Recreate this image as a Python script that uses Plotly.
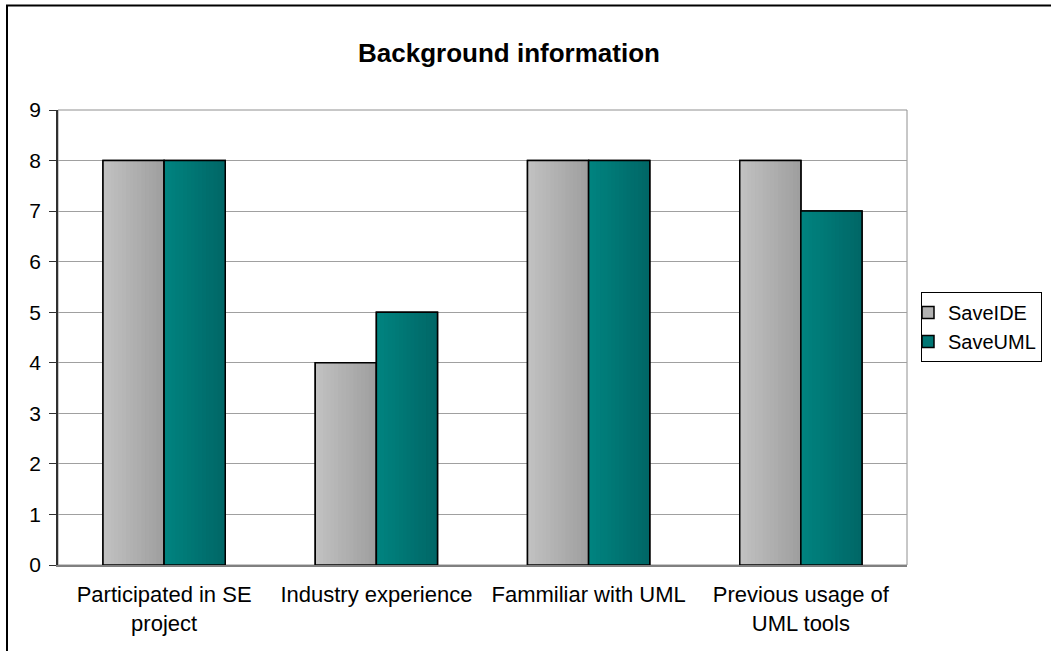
import plotly.graph_objects as go

# Survey answers per category
categories = ["Participated in SE<br>project", "Industry experience",
              "Fammiliar with UML", "Previous usage of<br>UML tools"]
save_ide = [8, 4, 8, 8]
save_uml = [8, 5, 8, 7]

series = [
    # name, values, left colour, right colour, offset
    ("SaveIDE", save_ide, (194, 194, 194), (158, 158, 158), -0.288),
    ("SaveUML", save_uml, (0, 132, 128), (0, 102, 102), 0.0),
]
BAR_W = 0.288
STEPS = 16

fig = go.Figure()


def mix(a, b, t):
    return "rgb({},{},{})".format(*[round(a[i] + (b[i] - a[i]) * t) for i in range(3)])


for name, vals, c0, c1, off in series:
    # base bar (also provides the legend swatch)
    fig.add_trace(go.Bar(
        x=categories, y=vals, name=name, width=BAR_W, offset=off,
        marker=dict(color=mix(c0, c1, 0.45), line=dict(color="black", width=1.5)),
        showlegend=True,
    ))
    # horizontal gradient built from progressively narrower strips
    for i in range(STEPS):
        frac = i / STEPS
        fig.add_trace(go.Bar(
            x=categories, y=vals, width=BAR_W * (1 - frac), offset=off + BAR_W * frac,
            marker=dict(color=mix(c0, c1, (i + 0.5) / STEPS), line=dict(width=0)),
            showlegend=False, hoverinfo="skip",
        ))
    # outline on top
    fig.add_trace(go.Bar(
        x=categories, y=vals, width=BAR_W, offset=off,
        marker=dict(color="rgba(0,0,0,0)", line=dict(color="black", width=1.5)),
        showlegend=False, hoverinfo="skip",
    ))

fig.update_layout(
    width=1051, height=651,
    margin=dict(l=58, r=144, t=110, b=86, autoexpand=False),
    paper_bgcolor="white", plot_bgcolor="white",
    barmode="overlay",
    font=dict(family="Liberation Sans, Arial, sans-serif", size=21, color="black"),
    title=dict(text="<b>Background information</b>", x=509 / 1051, xref="container",
               xanchor="center", y=1 - 53 / 651, yanchor="middle",
               font=dict(size=26)),
    showlegend=True,
    legend=dict(x=(921 - 58) / 849, xanchor="left", y=(565 - 292) / 455, yanchor="top",
                bordercolor="black", borderwidth=1, bgcolor="white",
                font=dict(size=20), tracegroupgap=0, indentation=-14,
                itemwidth=30),
    shapes=[
        # plot-area border
        dict(type="rect", xref="paper", yref="paper", x0=0, x1=1, y0=0, y1=1,
             line=dict(color="#909090", width=1), layer="below"),
        # outer chart frame
        dict(type="rect", xref="paper", yref="paper",
             x0=(7 - 58) / 849, x1=(1070 - 58) / 849,
             y0=(565 - 670) / 455, y1=(565 - 5.5) / 455,
             line=dict(color="black", width=2), layer="below"),
    ],
)

fig.update_xaxes(showline=True, linecolor="#808080", linewidth=1.5, ticks="",
                 showgrid=False, tickfont=dict(size=22), ticklabelstandoff=9)
fig.update_yaxes(range=[0, 9], dtick=1, showgrid=True, gridcolor="#a0a0a0",
                 gridwidth=1, showline=True, linecolor="#303030", linewidth=1.5,
                 ticks="outside", ticklen=7, tickcolor="#303030",
                 tickfont=dict(size=21), zeroline=False, fixedrange=True,
                 ticklabelstandoff=4)

fig.write_html("out.html")
